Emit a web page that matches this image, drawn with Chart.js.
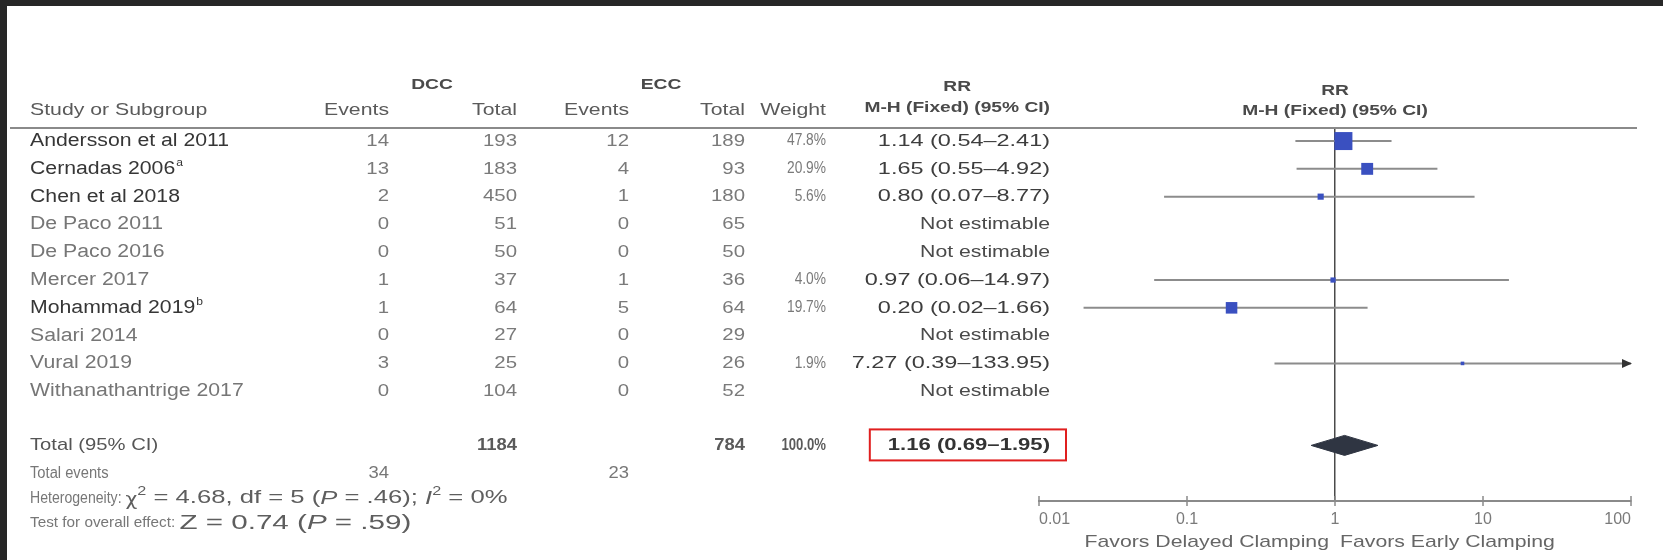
<!DOCTYPE html>
<html>
<head>
<meta charset="utf-8">
<script src="https://cdn.jsdelivr.net/npm/chart.js@4.4.1/dist/chart.umd.min.js"></script>
<style>
  html, body { margin: 0; padding: 0; width: 1663px; height: 560px; overflow: hidden; background: #272727; }
  #sheet { position: absolute; left: 7px; top: 6px; right: 0; bottom: 0; background: #ffffff; }
  #plot { position: absolute; left: 0; top: 0; }
</style>
</head>
<body>
<div id="sheet"></div>
<canvas id="plot" width="1663" height="560"></canvas>
<script>
// ---- study data ----
const studies = ['Andersson et al 2011', 'Cernadas 2006', 'Chen et al 2018', 'De Paco 2011', 'De Paco 2016',
                 'Mercer 2017', 'Mohammad 2019', 'Salari 2014', 'Vural 2019', 'Withanathantrige 2017'];
const footnoteMarks = ['', 'a', '', '', '', '', 'b', '', '', ''];
const dccEvents = [14, 13, 2, 0, 0, 1, 1, 0, 3, 0];
const dccTotal  = [193, 183, 450, 51, 50, 37, 64, 27, 25, 104];
const eccEvents = [12, 4, 1, 0, 0, 1, 5, 0, 0, 0];
const eccTotal  = [189, 93, 180, 65, 50, 36, 64, 29, 26, 52];
const weight    = [47.8, 20.9, 5.6, null, null, 4.0, 19.7, null, 1.9, null];
const riskRatio = [1.14, 1.65, 0.80, null, null, 0.97, 0.20, null, 7.27, null];
const ciLow     = [0.54, 0.55, 0.07, null, null, 0.06, 0.02, null, 0.39, null];
const ciHigh    = [2.41, 4.92, 8.77, null, null, 14.97, 1.66, null, 133.95, null];

// pooled (fixed-effect) result
const pooledRR = 1.16;
const pooledLow = 0.69;
const pooledHigh = 1.95;
const pooledWeight = 100.0;
const totalDcc = 1184;
const totalEcc = 784;
const eventsDcc = 34;
const eventsEcc = 23;
const heterogeneity = { chi2: 4.68, df: 5, p: '.46', i2: 0 };
const overallEffect = { z: 0.74, p: '.59' };

// axis ticks
const xTicks = [0.01, 0.1, 1, 10, 100];
const xTickLabels = ['0.01', '0.1', '1', '10', '100'];
const favorsLeft = 'Favors Delayed Clamping';
const favorsRight = 'Favors Early Clamping';

// ---- styling ----
const FONT = '"Liberation Sans", Arial, Helvetica, sans-serif';
const emphasizedRows = new Set([0, 1, 2, 6]);
const COL = { name: 30, dccEv: 389, dccTot: 517, eccEv: 629, eccTot: 745, wt: 826, rr: 1050 };
const MARKER = '#3a50c0';
const CI_LINE = '#8c8c8c';
const DIAMOND = '#2f3542';

const fmt2 = v => v.toFixed(2);
const rrText = i => `${fmt2(riskRatio[i])} (${fmt2(ciLow[i])}\u2013${fmt2(ciHigh[i])})`;

function fontOf(o) {
  return `${o.italic ? 'italic ' : ''}${o.bold ? 'bold ' : ''}${o.size}px ${o.family || FONT}`;
}
function txt(ctx, s, x, y, o) {
  ctx.save();
  ctx.font = fontOf(o);
  ctx.fillStyle = o.color || '#444';
  ctx.textBaseline = 'middle';
  ctx.textAlign = 'left';
  const sx = o.sx || 1;
  const w = ctx.measureText(s).width * sx;
  let left = x;
  if (o.align === 'right') left = x - w;
  else if (o.align === 'center') left = x - w / 2;
  ctx.translate(left, y + (o.dy || 0));
  ctx.scale(sx, 1);
  ctx.fillText(s, 0, 0);
  ctx.restore();
  return w;
}
function runs(ctx, parts, x, y) {
  let cx = x;
  for (const p of parts) cx += txt(ctx, p.t, cx, y, p);
  return cx;
}

// ---- datasets ----
const estimable = studies.map((_, i) => i).filter(i => riskRatio[i] !== null);
const pooledRow = studies.length + 0.95;

const ciSets = estimable.map(i => ({
  data: [{ x: ciLow[i], y: i }, { x: ciHigh[i], y: i }],
  showLine: true, borderColor: CI_LINE, borderWidth: 2, pointRadius: 0, order: 3
}));
const markerSet = {
  data: estimable.map(i => ({ x: riskRatio[i], y: i })),
  pointStyle: 'rect',
  pointRadius: estimable.map(i => 1.84 * Math.sqrt(weight[i])),
  backgroundColor: MARKER, borderColor: MARKER, borderWidth: 0, order: 0
};
const diamondSet = {
  data: [
    { x: pooledLow, y: pooledRow }, { x: pooledRR, y: pooledRow - 0.36 },
    { x: pooledHigh, y: pooledRow }, { x: pooledRR, y: pooledRow + 0.36 },
    { x: pooledLow, y: pooledRow }
  ],
  showLine: true, fill: 'shape', tension: 0,
  backgroundColor: DIAMOND, borderColor: DIAMOND, borderWidth: 1, pointRadius: 0, order: 1
};

// ---- table, header rule, axis ticks, arrows and captions ----
const forestTable = {
  id: 'forestTable',
  afterDraw(chart) {
    const ctx = chart.ctx;
    const xs = chart.scales.x, ys = chart.scales.y, area = chart.chartArea;
    const xOne = xs.getPixelForValue(1);

    // header rule
    ctx.save();
    ctx.strokeStyle = '#8a8a8a'; ctx.lineWidth = 2;
    ctx.beginPath(); ctx.moveTo(10, area.top); ctx.lineTo(1637, area.top); ctx.stroke();
    ctx.restore();

    // tick marks crossing the axis
    ctx.save();
    ctx.strokeStyle = '#8a8a8a'; ctx.lineWidth = 1.5;
    for (const v of xTicks) {
      const px = xs.getPixelForValue(v);
      ctx.beginPath(); ctx.moveTo(px, area.bottom - 5); ctx.lineTo(px, area.bottom + 5); ctx.stroke();
    }
    ctx.restore();

    // arrows where a CI runs off the axis
    ctx.save();
    ctx.fillStyle = '#333';
    for (const i of estimable) {
      if (ciHigh[i] > xs.max) {
        const px = xs.getPixelForValue(xs.max), py = ys.getPixelForValue(i);
        ctx.beginPath(); ctx.moveTo(px + 1, py); ctx.lineTo(px - 9, py - 4.5); ctx.lineTo(px - 9, py + 4.5); ctx.closePath(); ctx.fill();
      }
    }
    ctx.restore();

    // column headers
    const GROUP = { size: 15, bold: true, sx: 1.28, color: '#4a4a4a', align: 'center' };
    const HEAD = { size: 17, sx: 1.25, color: '#5a5a5a' };
    const gy = area.top - 43, hy = area.top - 18;
    txt(ctx, 'DCC', 432, gy, GROUP);
    txt(ctx, 'ECC', 661, gy, GROUP);
    const mhW = txt(ctx, 'M-H (Fixed) (95% CI)', COL.rr, area.top - 20, { ...GROUP, align: 'right' });
    txt(ctx, 'RR', COL.rr - mhW / 2, area.top - 41, GROUP);
    txt(ctx, 'RR', xOne, area.top - 37, GROUP);
    txt(ctx, 'M-H (Fixed) (95% CI)', xOne, area.top - 17, GROUP);

    txt(ctx, 'Study or Subgroup', COL.name, hy, HEAD);
    txt(ctx, 'Events', COL.dccEv, hy, { ...HEAD, align: 'right' });
    txt(ctx, 'Total', COL.dccTot, hy, { ...HEAD, align: 'right' });
    txt(ctx, 'Events', COL.eccEv, hy, { ...HEAD, align: 'right' });
    txt(ctx, 'Total', COL.eccTot, hy, { ...HEAD, align: 'right' });
    txt(ctx, 'Weight', COL.wt, hy, { ...HEAD, align: 'right' });

    // study rows
    const NUM = { size: 17, sx: 1.2, color: '#7a7a7a', align: 'right' };
    const WT = { size: 16, sx: 0.86, color: '#7a7a7a', align: 'right' };
    const RRS = { size: 17, sx: 1.38, color: '#3d3d3d', align: 'right' };
    const NE = { size: 17, sx: 1.25, color: '#4a4a4a', align: 'right' };
    studies.forEach((name, i) => {
      const y = ys.getPixelForValue(i);
      const strong = emphasizedRows.has(i);
      const nameStyle = { size: 18, sx: 1.18, color: strong ? '#363636' : '#767676' };
      const end = COL.name + txt(ctx, name, COL.name, y, nameStyle);
      if (footnoteMarks[i]) txt(ctx, footnoteMarks[i], end + 1, y, { size: 11, sx: 1.1, color: nameStyle.color, dy: -6 });
      txt(ctx, String(dccEvents[i]), COL.dccEv, y, NUM);
      txt(ctx, String(dccTotal[i]), COL.dccTot, y, NUM);
      txt(ctx, String(eccEvents[i]), COL.eccEv, y, NUM);
      txt(ctx, String(eccTotal[i]), COL.eccTot, y, NUM);
      if (weight[i] !== null) {
        txt(ctx, weight[i].toFixed(1) + '%', COL.wt, y, WT);
        txt(ctx, rrText(i), COL.rr, y, RRS);
      } else {
        txt(ctx, 'Not estimable', COL.rr, y, NE);
      }
    });

    // pooled row
    const ty = ys.getPixelForValue(pooledRow);
    txt(ctx, 'Total (95% CI)', COL.name, ty, { size: 17, sx: 1.19, color: '#555' });
    txt(ctx, String(totalDcc), COL.dccTot, ty, { size: 16, bold: true, sx: 1.15, color: '#5a5a5a', align: 'right' });
    txt(ctx, String(totalEcc), COL.eccTot, ty, { size: 16, bold: true, sx: 1.15, color: '#5a5a5a', align: 'right' });
    txt(ctx, pooledWeight.toFixed(1) + '%', COL.wt, ty, { size: 16, bold: true, sx: 0.82, color: '#5a5a5a', align: 'right' });
    const pooledStr = `${fmt2(pooledRR)} (${fmt2(pooledLow)}\u2013${fmt2(pooledHigh)})`;
    const pw = txt(ctx, pooledStr, COL.rr, ty, { size: 17, bold: true, sx: 1.3, color: '#333', align: 'right' });
    ctx.save();
    ctx.strokeStyle = '#e01f1f'; ctx.lineWidth = 2;
    ctx.strokeRect(COL.rr - pw - 18, ty - 16, pw + 34, 31);
    ctx.restore();

    // total events
    const ey = ys.getPixelForValue(pooledRow + 1.03);
    txt(ctx, 'Total events', COL.name, ey, { size: 16, sx: 0.92, color: '#777' });
    txt(ctx, String(eventsDcc), COL.dccEv, ey, { size: 16, sx: 1.15, color: '#777', align: 'right' });
    txt(ctx, String(eventsEcc), COL.eccEv, ey, { size: 16, sx: 1.15, color: '#777', align: 'right' });

    // heterogeneity and overall effect
    const SMALL = { size: 16, sx: 0.88, color: '#777' };
    const BIG = { size: 19, sx: 1.35, color: '#5e5e5e' };
    const hyy = ys.getPixelForValue(pooledRow + 1.9);
    runs(ctx, [
      { t: 'Heterogeneity: ', ...SMALL },
      { t: '\u03C7', ...BIG, family: '"DejaVu Sans", sans-serif', size: 17, sx: 1.2, dy: 2 },
      { t: '2', ...BIG, size: 12, dy: -7 },
      { t: ` = ${heterogeneity.chi2.toFixed(2)}, df = ${heterogeneity.df} (`, ...BIG },
      { t: 'P', ...BIG, italic: true },
      { t: ` = ${heterogeneity.p}); `, ...BIG },
      { t: 'I', ...BIG, italic: true },
      { t: '2', ...BIG, size: 12, dy: -7 },
      { t: ` = ${heterogeneity.i2}%`, ...BIG }
    ], COL.name, hyy);
    const zy = ys.getPixelForValue(pooledRow + 2.8);
    const ZS = { ...BIG, size: 20, sx: 1.48 };
    runs(ctx, [
      { t: 'Test for overall effect: ', size: 15, sx: 1.02, color: '#777' },
      { t: `Z = ${overallEffect.z.toFixed(2)} (`, ...ZS },
      { t: 'P', ...ZS, italic: true },
      { t: ` = ${overallEffect.p})`, ...ZS }
    ], COL.name, zy);

    // favours captions
    const fy = area.bottom + 41;
    txt(ctx, favorsLeft, xOne - 6, fy, { size: 17, sx: 1.25, color: '#666', align: 'right' });
    txt(ctx, favorsRight, xOne + 5, fy, { size: 17, sx: 1.25, color: '#666' });
  }
};

new Chart(document.getElementById('plot'), {
  type: 'scatter',
  data: { datasets: [markerSet, diamondSet, ...ciSets] },
  options: {
    responsive: false,
    animation: false,
    devicePixelRatio: 1,
    layout: { padding: { left: 1039, right: 32, top: 128, bottom: 0 } },
    plugins: { legend: { display: false }, tooltip: { enabled: false } },
    scales: {
      x: {
        type: 'logarithmic',
        min: xTicks[0],
        max: xTicks[xTicks.length - 1],
        afterBuildTicks: s => { s.ticks = xTicks.map(v => ({ value: v })); },
        afterFit: s => { s.height = 59; },
        grid: {
          drawTicks: false,
          lineWidth: 1.5,
          color: c => (c.tick && c.tick.value === 1) ? '#4a4a4a' : 'rgba(0,0,0,0)'
        },
        border: { display: true, color: '#8a8a8a', width: 2 },
        ticks: {
          align: 'inner',
          padding: 9,
          autoSkip: false,
          maxRotation: 0,
          color: '#7a7a7a',
          font: { family: FONT, size: 16 },
          callback: v => xTickLabels[xTicks.indexOf(v)] ?? ''
        }
      },
      y: { type: 'linear', reverse: true, min: -0.47, max: 12.95, display: false }
    }
  },
  plugins: [forestTable]
});
</script>
</body>
</html>
